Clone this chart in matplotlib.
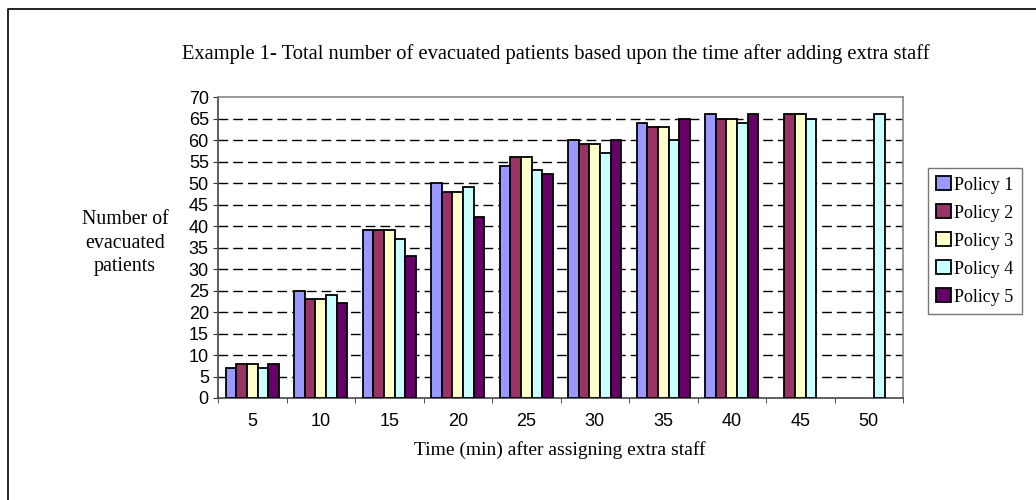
import numpy as np
import matplotlib.pyplot as plt
from matplotlib.lines import Line2D

times = ["5", "10", "15", "20", "25", "30", "35", "40", "45", "50"]
policy1 = [7, 25, 39, 50, 54, 60, 64, 66, 0, 0]
policy2 = [8, 23, 39, 48, 56, 59, 63, 65, 66, 0]
policy3 = [8, 23, 39, 48, 56, 59, 63, 65, 66, 0]
policy4 = [7, 24, 37, 49, 53, 57, 60, 64, 65, 66]
policy5 = [8, 22, 33, 42, 52, 60, 65, 66, 0, 0]
names = ["Policy 1", "Policy 2", "Policy 3", "Policy 4", "Policy 5"]
colors = ["#9999FF", "#993366", "#FFFFCC", "#CCFFFF", "#660066"]

serif = "Liberation Serif"
sans = "Liberation Sans"

fig = plt.figure(figsize=(10.36, 5.0), dpi=100)
ax = fig.add_axes([218 / 1036, 1 - 398 / 500, (903 - 218) / 1036, (398 - 97) / 500])

x = np.arange(len(times))
w = 0.155
for i, (vals, name, c) in enumerate(zip([policy1, policy2, policy3, policy4, policy5], names, colors)):
    v = np.array(vals, dtype=float)
    mask = v > 0
    ax.bar(x[mask] + (i - 2) * w, v[mask], w, color=c, edgecolor="black", linewidth=1.3,
           label=name, zorder=3)

ax.set_xlim(-0.5, len(times) - 0.5)
ax.set_ylim(0, 70)
ax.set_yticks(np.arange(0, 71, 5))
ax.set_yticklabels([str(t) for t in range(0, 71, 5)], fontfamily=sans, fontsize=13)
ax.set_xticks(x)
ax.set_xticklabels(times, fontfamily=sans, fontsize=13)
ax.tick_params(axis="x", length=0, pad=11)
ax.set_xticks(np.arange(-0.5, len(times), 1), minor=True)
ax.tick_params(axis="x", which="minor", length=3.6, direction="out", color="#333333")
ax.tick_params(axis="y", length=3.6, direction="out", color="#333333", pad=3)

# dashed horizontal gridlines
for y in range(5, 70, 5):
    ax.axhline(y, color="black", linestyle=(0, (7, 3.6)), linewidth=1.0, zorder=1)

for s in ["top", "right"]:
    ax.spines[s].set_color("#888888")
    ax.spines[s].set_linewidth(1.2)
for s in ["left", "bottom"]:
    ax.spines[s].set_color("#444444")
    ax.spines[s].set_linewidth(1.2)

fig.text(560 / 1036, 1 - 455 / 500, "Time (min) after assigning extra staff", ha="center", va="baseline",
         fontfamily=serif, fontsize=14)
fig.text(125 / 1036, 1 - 243 / 500, "Number of\nevacuated\npatients", ha="center", va="center",
         fontfamily=serif, fontsize=14.3, linespacing=1.3)
fig.text(556 / 1036, 1 - 54 / 500,
         "Example 1- Total number of evacuated patients based upon the time after adding extra staff",
         ha="center", va="center", fontfamily=serif, fontsize=14.8)

leg = fig.legend(loc="center", bbox_to_anchor=(975 / 1036, 1 - 241 / 500), prop={"family": serif, "size": 13},
                 handlelength=0.8, handleheight=0.8, handletextpad=0.2, labelspacing=0.6,
                 fancybox=False, edgecolor="#555555", borderpad=0.45, borderaxespad=0)
leg.get_frame().set_linewidth(1.0)

# outer chart border (only top and left edges are visible in the reference)
fig.lines.append(Line2D([8 / 1036, 8 / 1036, 1.01], [-0.01, 1 - 9 / 500, 1 - 9 / 500],
                        transform=fig.transFigure, color="black", linewidth=1.2))

fig.savefig("out.png", dpi=100)
